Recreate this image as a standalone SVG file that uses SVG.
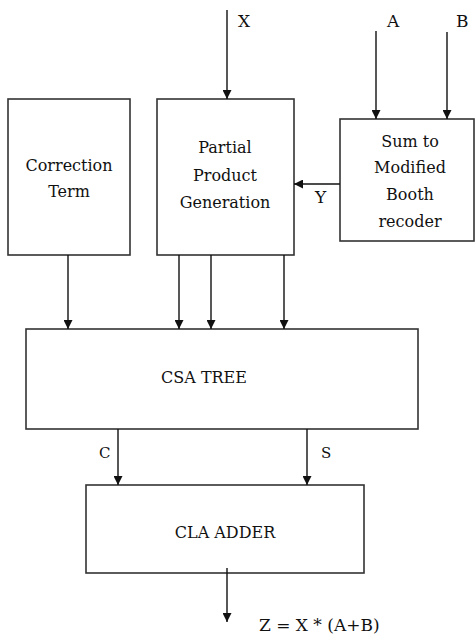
<svg xmlns="http://www.w3.org/2000/svg" width="475" height="637" viewBox="0 0 475 637">
<defs>
<marker id="ah" viewBox="0 0 10 10" refX="10" refY="5" markerWidth="9" markerHeight="9" markerUnits="userSpaceOnUse" orient="auto">
<path d="M0,0 L10,5 L0,10 Z" fill="#111"/>
</marker>
<style>
.box{fill:#fff;stroke:#333;stroke-width:1.6}
text{font-family:'DejaVu Serif',serif;fill:#111}
.t{font-size:16px;text-anchor:middle}
.l{font-size:17px}
.s{font-size:15px}
.c{stroke:#111;stroke-width:1.4;fill:none;marker-end:url(#ah)}
</style>
</defs>
<rect width="475" height="637" fill="#fff"/>
<g id="correction">
<rect class="box" x="8" y="99" width="122" height="156"/>
<text class="t" x="69" y="171">Correction</text>
<text class="t" x="69" y="197">Term</text>
</g>
<g id="ppg">
<rect class="box" x="157" y="99" width="137" height="156"/>
<text class="t" x="225" y="153">Partial</text>
<text class="t" x="225" y="181">Product</text>
<text class="t" x="225" y="208">Generation</text>
</g>
<g id="booth">
<rect class="box" x="340" y="119" width="134" height="122"/>
<text class="t" x="410" y="147">Sum to</text>
<text class="t" x="410" y="173">Modified</text>
<text class="t" x="410" y="200">Booth</text>
<text class="t" x="410" y="227">recoder</text>
</g>
<g id="csa">
<rect class="box" x="26" y="329" width="392" height="100"/>
<text class="t" x="204" y="383">CSA TREE</text>
</g>
<g id="cla">
<rect class="box" x="86" y="485" width="278" height="88"/>
<text class="t" x="225" y="538">CLA ADDER</text>
</g>
<g id="connectors">
<line class="c" x1="227" y1="10" x2="227" y2="99"/>
<line class="c" x1="376" y1="31" x2="376" y2="119"/>
<line class="c" x1="447" y1="32" x2="447" y2="119"/>
<line class="c" x1="340" y1="184" x2="294" y2="184"/>
<line class="c" x1="68" y1="255" x2="68" y2="329"/>
<line class="c" x1="179" y1="255" x2="179" y2="329"/>
<line class="c" x1="211" y1="255" x2="211" y2="329"/>
<line class="c" x1="284" y1="255" x2="284" y2="329"/>
<line class="c" x1="118" y1="429" x2="118" y2="485"/>
<line class="c" x1="307" y1="429" x2="307" y2="485"/>
<line class="c" x1="227" y1="568" x2="227" y2="622"/>
<text class="l" x="238" y="27">X</text>
<text class="l" x="387" y="27">A</text>
<text class="l" x="456" y="27">B</text>
<text class="l" x="315" y="203">Y</text>
<text class="s" x="99" y="458">C</text>
<text class="s" x="321" y="458">S</text>
<text class="l" x="259" y="631">Z = X * (A+B)</text>
</g>
</svg>
